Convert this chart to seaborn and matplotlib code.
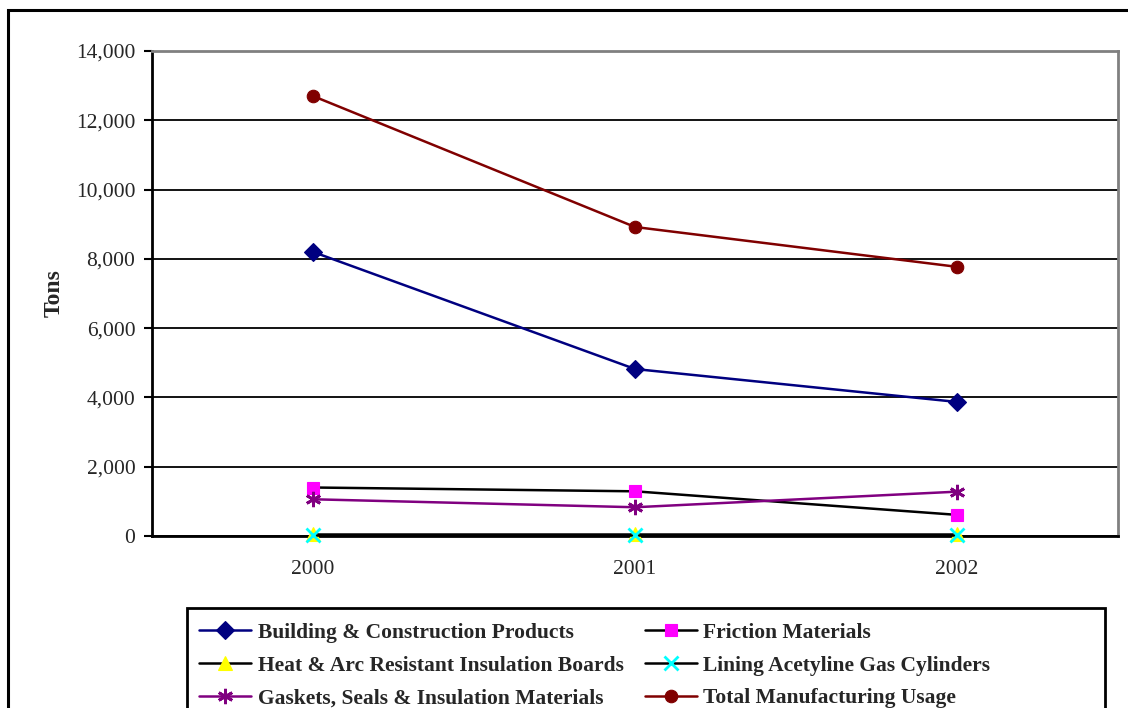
import matplotlib
matplotlib.use("Agg")
import matplotlib.pyplot as plt
import seaborn as sns
import numpy as np
from matplotlib.patches import Rectangle

years = ["2000", "2001", "2002"]
building = [8200, 4820, 3870]
friction = [1400, 1290, 610]
heat_arc = [50, 50, 50]
lining = [20, 20, 20]
gaskets = [1060, 830, 1280]
total = [12700, 8920, 7770]

series = [
    ("Building & Construction Products", building, "#000080", "D", "#000080", 9),
    ("Friction Materials", friction, "#000000", "s", "#FF00FF", 8),
    ("Heat & Arc Resistant Insulation Boards", heat_arc, "#000000", "^", "#FFFF00", 10),
    ("Lining Acetyline Gas Cylinders", lining, "#000000", "x", "#00FFFF", 10),
    ("Gaskets, Seals & Insulation Materials", gaskets, "#800080", (6, 2, 0), "#800080", 11),
    ("Total Manufacturing Usage", total, "#800000", "o", "#800000", 9),
]

sns.set_style("white")
plt.rcParams["font.family"] = ["Liberation Serif", "DejaVu Serif"]

fig = plt.figure(figsize=(11.28, 7.08), dpi=100)
ax = fig.add_axes([152 / 1128, 1 - 536 / 708, (1118 - 152) / 1128, (536 - 51) / 708])

xpos = np.arange(len(years))
handles = {}
for name, vals, lc, mk, mc, ms in series:
    sns.lineplot(x=xpos, y=vals, ax=ax, color=lc, linewidth=1.8, marker=mk,
                 markersize=ms, markerfacecolor=mc, markeredgecolor=mc,
                 markeredgewidth=2 if mk in ("x", (6, 2, 0)) else 0.8,
                 label=name, legend=False, clip_on=False, zorder=3)
    handles[name] = ax.lines[-1]

ax.set_xlim(-0.5, len(years) - 0.5)
ax.set_ylim(0, 14000)
ax.set_yticks(np.arange(0, 14001, 2000))
ax.set_yticklabels([f"{v:,}" for v in range(0, 14001, 2000)], fontsize=15.5)
ax.set_xticks(xpos)
ax.set_xticklabels(years, fontsize=15.5)
ax.set_xticks(np.arange(-0.5, len(years), 1), minor=True)
ax.tick_params(axis="x", which="major", length=0, pad=17)
ax.tick_params(axis="x", which="minor", length=7, width=1.5, direction="out", color="black")
ax.tick_params(axis="y", length=6, width=1.5, direction="out", color="black", left=True, pad=6)
ax.yaxis.grid(True, color="black", linewidth=1.3)
ax.set_axisbelow(True)
for s in ("left", "bottom"):
    ax.spines[s].set_color("black")
    ax.spines[s].set_linewidth(2)
for s in ("top", "right"):
    ax.spines[s].set_color("#808080")
    ax.spines[s].set_linewidth(2)
ax.set_ylabel("Tons", fontsize=17, fontweight="bold", labelpad=8)
ax.set_xlabel("")

order = [series[0][0], series[2][0], series[4][0], series[1][0], series[3][0], series[5][0]]
leg = fig.legend([handles[n] for n in order], order, ncol=2, loc="upper left",
                 bbox_to_anchor=(193 / 1128, 1 - 616 / 708), frameon=False,
                 prop={"weight": "bold", "size": 15.5},
                 handlelength=2.4, handletextpad=0.3, columnspacing=1.0,
                 labelspacing=0.6, borderpad=0.3, borderaxespad=0)

# legend box (extends past the bottom of the picture, as in the original)
fig.patches.append(Rectangle((187 / 1128, -0.05), (1105 - 187) / 1128, 0.05 + 1 - 608 / 708,
                             transform=fig.transFigure, fill=False,
                             edgecolor="black", linewidth=2))
# outer chart border
fig.patches.append(Rectangle((8 / 1128, -0.1), 1.2, 1 - 10 / 708 + 0.1,
                             transform=fig.transFigure, fill=False,
                             edgecolor="black", linewidth=2.2))

fig.savefig("out.png", dpi=100)
